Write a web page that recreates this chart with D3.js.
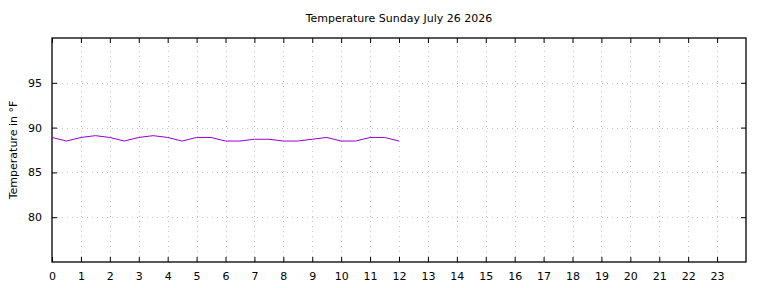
<!DOCTYPE html>
<html>
<head>
<meta charset="utf-8">
<script src="https://cdn.jsdelivr.net/npm/d3@7"></script>
<style>
  body { margin: 0; background: #fff; }
  svg { display: block; font-family: "DejaVu Sans", sans-serif; }
</style>
</head>
<body>
<svg></svg>
<script>
let title = 'Temperature Sunday July 26 2026'
let yLabel = 'Temperature in \u00b0F'

// hour of day, half hour steps
let hours = [0, 0.5, 1, 1.5, 2, 2.5, 3, 3.5, 4, 4.5, 5, 5.5, 6, 6.5, 7, 7.5, 8, 8.5, 9, 9.5, 10, 10.5, 11, 11.5, 12]
let temps = [88.9, 88.5, 88.9, 89.1, 88.9, 88.5, 88.9, 89.1, 88.9, 88.5, 88.9, 88.9, 88.5, 88.5, 88.7, 88.7, 88.5, 88.5, 88.7, 88.9, 88.5, 88.5, 88.9, 88.9, 88.5]

let xTicks = d3.range(0, 24)
let yTicks = [80, 85, 90, 95]

let width = 768
let height = 288
let margin = { left: 52, right: 22, top: 38, bottom: 26 }

let svg = d3.select('svg')
svg.attr('width', width).attr('height', height)

let xScale = d3.scaleLinear()
               .domain([0, 24])
               .range([margin.left, width - margin.right])
let yScale = d3.scaleLinear()
               .domain([75, 100])
               .range([height - margin.bottom, margin.top])

// grid
let grid = svg.append('g')
              .attr('stroke', '#c4c4c4')
              .attr('stroke-width', 1)
              .attr('stroke-dasharray', '1,4')
grid.selectAll('.gx')
    .data(xTicks.filter(d => d > 0))
    .enter()
    .append('line')
    .attr('x1', d => Math.round(xScale(d)) + 0.5)
    .attr('x2', d => Math.round(xScale(d)) + 0.5)
    .attr('y1', yScale(75))
    .attr('y2', yScale(100))
grid.selectAll('.gy')
    .data(yTicks)
    .enter()
    .append('line')
    .attr('y1', d => Math.round(yScale(d)) + 0.5)
    .attr('y2', d => Math.round(yScale(d)) + 0.5)
    .attr('x1', xScale(0))
    .attr('x2', xScale(24))

// axes (ticks inward, mirrored like gnuplot)
let xAxis = d3.axisBottom(xScale)
              .tickValues(xTicks)
              .tickFormat(d3.format('d'))
              .tickSizeInner(-5)
              .tickSizeOuter(0)
              .tickPadding(10)
let xAxisTop = d3.axisTop(xScale)
              .tickValues(xTicks)
              .tickFormat('')
              .tickSizeInner(-5)
              .tickSizeOuter(0)
let yAxis = d3.axisLeft(yScale)
              .tickValues(yTicks)
              .tickSizeInner(-5)
              .tickSizeOuter(0)
              .tickPadding(10)
let yAxisRight = d3.axisRight(yScale)
              .tickValues(yTicks)
              .tickFormat('')
              .tickSizeInner(-5)
              .tickSizeOuter(0)

svg.append('g')
   .attr('transform', 'translate(0,' + (height - margin.bottom) + ')')
   .call(xAxis)
svg.append('g')
   .attr('transform', 'translate(0,' + margin.top + ')')
   .call(xAxisTop)
svg.append('g')
   .attr('transform', 'translate(' + margin.left + ',0)')
   .call(yAxis)
svg.append('g')
   .attr('transform', 'translate(' + (width - margin.right) + ',0)')
   .call(yAxisRight)

svg.selectAll('.domain').remove()
svg.selectAll('.tick line').attr('stroke', '#000')
svg.selectAll('.tick text')
   .attr('font-family', '"DejaVu Sans", sans-serif')
   .attr('font-size', 11)
   .attr('fill', '#000')

// frame
svg.append('rect')
   .attr('x', xScale(0))
   .attr('y', yScale(100))
   .attr('width', xScale(24) - xScale(0))
   .attr('height', yScale(75) - yScale(100))
   .attr('fill', 'none')
   .attr('stroke', '#000')
   .attr('stroke-width', 1.3)

// data line
let line = d3.line()
             .x((d, i) => xScale(hours[i]))
             .y(d => yScale(d))
svg.append('path')
   .datum(temps)
   .attr('d', line)
   .attr('fill', 'none')
   .attr('stroke', '#9400d3')
   .attr('stroke-width', 1)

// title and label
svg.append('text')
   .attr('x', (margin.left + width - margin.right) / 2)
   .attr('y', 22)
   .attr('text-anchor', 'middle')
   .attr('font-size', 11)
   .attr('fill', '#000')
   .text(title)

svg.append('text')
   .attr('transform', 'translate(17,' + ((margin.top + height - margin.bottom) / 2) + ') rotate(-90)')
   .attr('text-anchor', 'middle')
   .attr('font-size', 11)
   .attr('fill', '#000')
   .text(yLabel)
</script>
</body>
</html>
